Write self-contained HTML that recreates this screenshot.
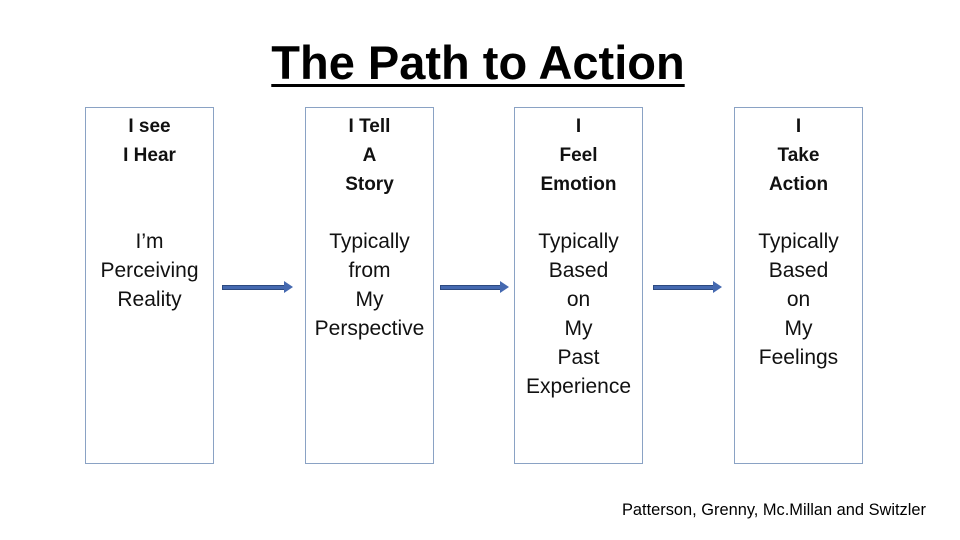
<!DOCTYPE html>
<html><head><style>
body{margin:0;width:960px;height:540px;background:#fff;position:relative;font-family:"Liberation Sans",sans-serif;overflow:hidden}
.t{position:absolute;left:-2px;width:960px;top:35px;text-align:center;font-size:47px;font-weight:bold}
.t span{text-decoration:underline;text-decoration-thickness:3px;text-underline-offset:5px}
.b{position:absolute;top:107px;height:355px;width:127px;border:1px solid #8aa2c4;text-align:center;font-size:21px;line-height:29px;color:#111}
.b .h{position:absolute;top:4px;left:-10px;right:-10px;font-weight:bold;font-size:19px}
.b .l{position:absolute;top:119px;left:-10px;right:-10px}
.a{position:absolute;top:285px;height:5px;background:#4569b0;border:1px solid #2d4a80;box-sizing:border-box}
.a:after{content:"";position:absolute;right:-9px;top:-5px;border-left:9px solid #4569b0;border-top:6.5px solid transparent;border-bottom:6.5px solid transparent}
.f{position:absolute;left:622px;top:501px;font-size:16.4px}
</style></head><body>
<div class="t"><span>The Path to Action</span></div>
<div class="b" style="left:85px"><div class="h">I see<br>I Hear</div><div class="l">I’m<br>Perceiving<br>Reality</div></div>
<div class="b" style="left:305px"><div class="h">I Tell<br>A<br>Story</div><div class="l">Typically<br>from<br>My<br>Perspective</div></div>
<div class="b" style="left:514px"><div class="h">I<br>Feel<br>Emotion</div><div class="l">Typically<br>Based<br>on<br>My<br>Past<br>Experience</div></div>
<div class="b" style="left:734px"><div class="h">I<br>Take<br>Action</div><div class="l">Typically<br>Based<br>on<br>My<br>Feelings</div></div>
<div class="a" style="left:222px;width:63px"></div>
<div class="a" style="left:440px;width:61px"></div>
<div class="a" style="left:653px;width:61px"></div>
<div class="f">Patterson, Grenny, Mc.Millan and Switzler</div>
</body></html>
